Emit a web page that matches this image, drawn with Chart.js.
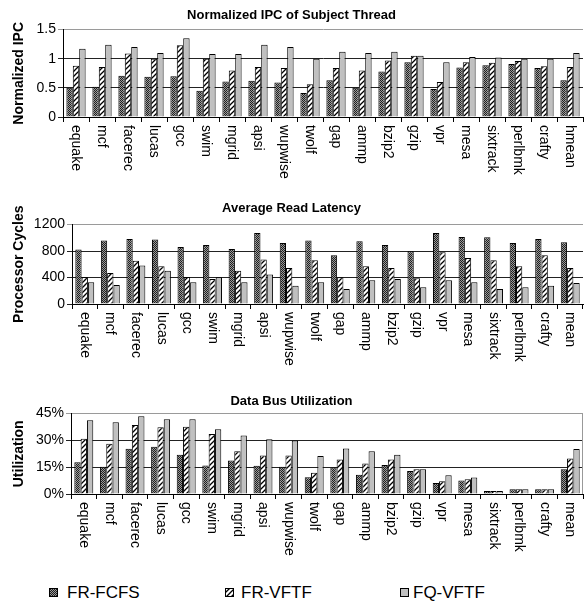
<!DOCTYPE html>
<html>
<head>
<meta charset="utf-8">
<script src="https://cdn.jsdelivr.net/npm/chart.js@4"></script>
<style>
  body { margin: 0; background: #fff; font-family: "Liberation Sans", Arial, sans-serif; }
  canvas.chart { position: absolute; left: 0; }
  .legend { position: absolute; top: 583px; left: 0; width: 584px; height: 20px; }
  .item { position: absolute; top: 0; font-size: 17px; line-height: 20px; color: #000; }
  .item canvas { position: absolute; top: 5px; }
  .item span { position: absolute; white-space: nowrap; }
</style>
</head>
<body>
<canvas class="chart" id="ipc" width="584" height="190" style="top:0"></canvas>
<canvas class="chart" id="lat" width="584" height="190" style="top:190px"></canvas>
<canvas class="chart" id="util" width="584" height="180" style="top:380px"></canvas>
<div class="legend">
  <div class="item" style="left:49px"><canvas id="lg0" width="9" height="9"></canvas><span style="left:18px">FR-FCFS</span></div>
  <div class="item" style="left:225px"><canvas id="lg1" width="9" height="9"></canvas><span style="left:16px">FR-VFTF</span></div>
  <div class="item" style="left:400px"><canvas id="lg2" width="9" height="9"></canvas><span style="left:13px">FQ-VFTF</span></div>
</div>
<script>
const benchmarks = ['equake', 'mcf', 'facerec', 'lucas', 'gcc', 'swim', 'mgrid', 'apsi', 'wupwise', 'twolf',
  'gap', 'ammp', 'bzip2', 'gzip', 'vpr', 'mesa', 'sixtrack', 'perlbmk', 'crafty'];
const ipcLabels = benchmarks.concat(['hmean']);
const otherLabels = benchmarks.concat(['mean']);
const seriesNames = ['FR-FCFS', 'FR-VFTF', 'FQ-VFTF'];

// normalized IPC
const ipcFcfs = [0.50, 0.52, 0.71, 0.69, 0.70, 0.45, 0.61, 0.62, 0.59, 0.41, 0.63, 0.50, 0.78, 0.94, 0.48, 0.85, 0.89, 0.91, 0.84, 0.63];
const ipcVftf = [0.88, 0.86, 1.09, 1.00, 1.23, 1.00, 0.80, 0.86, 0.84, 0.56, 0.84, 0.80, 0.97, 1.05, 0.60, 0.94, 0.93, 0.96, 0.87, 0.86];
const ipcFq   = [1.17, 1.24, 1.20, 1.10, 1.35, 1.08, 1.08, 1.24, 1.20, 1.00, 1.12, 1.10, 1.12, 1.05, 0.94, 1.03, 1.02, 1.00, 1.00, 1.10];

// average read latency (cycles)
const latFcfs = [822, 958, 983, 973, 862, 892, 832, 1074, 923, 958, 736, 948, 892, 797, 1074, 1013, 1008, 923, 983, 933];
const latVftf = [408, 469, 655, 570, 408, 378, 504, 671, 545, 660, 403, 570, 545, 388, 782, 696, 660, 570, 736, 545];
const latFq   = [328, 287, 580, 504, 328, 403, 328, 444, 277, 328, 227, 358, 378, 252, 358, 328, 227, 252, 277, 318];

// data bus utilization (%)
const utilFcfs = [17.8, 15.2, 25.3, 26.5, 21.9, 16.0, 18.7, 15.8, 15.2, 9.4, 14.9, 10.8, 16.2, 12.9, 6.1, 7.5, 1.7, 2.6, 2.6, 13.8];
const utilVftf = [30.9, 28.1, 38.6, 37.3, 37.7, 33.6, 23.9, 21.5, 21.5, 11.9, 19.3, 17.1, 19.3, 13.8, 7.2, 8.3, 1.7, 2.6, 2.6, 19.8];
const utilFq   = [41.3, 40.2, 43.5, 41.9, 41.9, 36.2, 32.7, 30.7, 29.9, 21.3, 25.4, 23.9, 22.0, 13.8, 10.5, 9.2, 1.7, 2.6, 2.6, 25.2];

const FONT = '"Liberation Sans", Arial, sans-serif';

// fill patterns
function makeDots() {
  const c = document.createElement('canvas');
  c.width = 2; c.height = 2;
  const g = c.getContext('2d');
  g.fillStyle = '#9a9a9a'; g.fillRect(0, 0, 2, 2);
  g.fillStyle = '#1e1e1e'; g.fillRect(0, 0, 1, 1); g.fillRect(1, 1, 1, 1);
  return c;
}
function makeHatch() {
  const c = document.createElement('canvas');
  c.width = 5; c.height = 5;
  const g = c.getContext('2d');
  g.fillStyle = '#fff'; g.fillRect(0, 0, 5, 5);
  g.strokeStyle = '#000'; g.lineWidth = 1.3;
  g.beginPath();
  g.moveTo(-1, 6); g.lineTo(6, -1);
  g.moveTo(-1, 1); g.lineTo(1, -1);
  g.moveTo(4, 6); g.lineTo(6, 4);
  g.stroke();
  return c;
}
const pctx = document.createElement('canvas').getContext('2d');
const fills = [
  pctx.createPattern(makeDots(), 'repeat'),
  pctx.createPattern(makeHatch(), 'repeat'),
  '#c0c0c0'
];

// x labels written top-to-bottom under each category
const vertLabels = {
  id: 'vertLabels',
  afterDraw(chart) {
    const xs = chart.scales.x, ctx = chart.ctx;
    ctx.save();
    ctx.font = '14px ' + FONT;
    ctx.fillStyle = '#000';
    ctx.textAlign = 'left';
    ctx.textBaseline = 'middle';
    chart.data.labels.forEach((lab, i) => {
      ctx.save();
      ctx.translate(xs.getPixelForValue(i), xs.top + 8);
      ctx.rotate(Math.PI / 2);
      ctx.fillText(lab, 0, 0);
      ctx.restore();
    });
    ctx.restore();
  }
};

const rightEdge = {
  id: 'rightEdge',
  afterDraw(chart, args, opts) {
    if (!opts.show) return;
    const a = chart.chartArea, ctx = chart.ctx;
    ctx.save();
    ctx.strokeStyle = '#999';
    ctx.lineWidth = 1;
    ctx.beginPath();
    ctx.moveTo(a.right - 0.5, a.top);
    ctx.lineTo(a.right - 0.5, a.bottom);
    ctx.stroke();
    ctx.restore();
  }
};

function barChart(id, cfg) {
  const canvas = document.getElementById(id);
  return new Chart(canvas, {
    type: 'bar',
    data: {
      labels: cfg.labels,
      datasets: cfg.series.map((d, i) => ({
        label: seriesNames[i],
        data: d,
        backgroundColor: fills[i],
        borderColor: '#000',
        borderWidth: 1,
        categoryPercentage: 0.74,
        barPercentage: 1.0
      }))
    },
    options: {
      responsive: false,
      animation: false,
      layout: { padding: { right: 1 } },
      plugins: {
        legend: { display: false },
        tooltip: { enabled: false },
        title: {
          display: true,
          text: cfg.title,
          color: '#000',
          font: { family: FONT, size: 13, weight: 'bold' },
          padding: cfg.titlePad
        },
        rightEdge: { show: !!cfg.edge }
      },
      scales: {
        x: {
          grid: {
            display: true, drawOnChartArea: false, drawTicks: true,
            tickLength: 5, color: '#000', offset: true
          },
          border: { color: '#000' },
          ticks: { display: false },
          afterFit(s) { s.height = cfg.xHeight; }
        },
        y: {
          min: 0,
          max: cfg.max,
          grid: {
            tickLength: 5,
            color: c => (c.tick && c.tick.value === cfg.max) ? '#9a9a9a' : '#222'
          },
          border: { color: '#000' },
          ticks: {
            stepSize: cfg.step,
            padding: 2,
            color: '#000',
            font: { family: FONT, size: 14 },
            callback: cfg.fmt
          },
          title: {
            display: true,
            text: cfg.yTitle,
            color: '#000',
            font: { family: FONT, size: 14, weight: 'bold' },
            padding: { top: 11, bottom: 0 }
          },
          afterFit(s) { s.width = cfg.yWidth; }
        }
      }
    },
    plugins: [vertLabels, rightEdge]
  });
}

barChart('ipc', {
  labels: ipcLabels,
  series: [ipcFcfs, ipcVftf, ipcFq],
  title: 'Normalized IPC of Subject Thread',
  titlePad: { top: 8, bottom: 6 },
  yTitle: 'Normalized IPC',
  max: 1.5, step: 0.5,
  fmt: v => String(v),
  yWidth: 63, xHeight: 73
});

barChart('lat', {
  labels: otherLabels,
  series: [latFcfs, latVftf, latFq],
  title: 'Average Read Latency',
  titlePad: { top: 11, bottom: 8 },
  yTitle: 'Processor Cycles',
  max: 1200, step: 400,
  fmt: v => String(v),
  yWidth: 72, xHeight: 76
});

barChart('util', {
  labels: otherLabels,
  series: [utilFcfs, utilVftf, utilFq],
  title: 'Data Bus Utilization',
  titlePad: { top: 14, bottom: 4 },
  yTitle: 'Utilization',
  max: 45, step: 15,
  fmt: v => v + '%',
  yWidth: 71, xHeight: 66,
  edge: true
});

// legend swatches
fills.forEach((f, i) => {
  const g = document.getElementById('lg' + i).getContext('2d');
  g.fillStyle = f;
  g.fillRect(0, 0, 9, 9);
  g.strokeStyle = '#000';
  g.lineWidth = 1;
  g.strokeRect(0.5, 0.5, 8, 8);
});
</script>
</body>
</html>
